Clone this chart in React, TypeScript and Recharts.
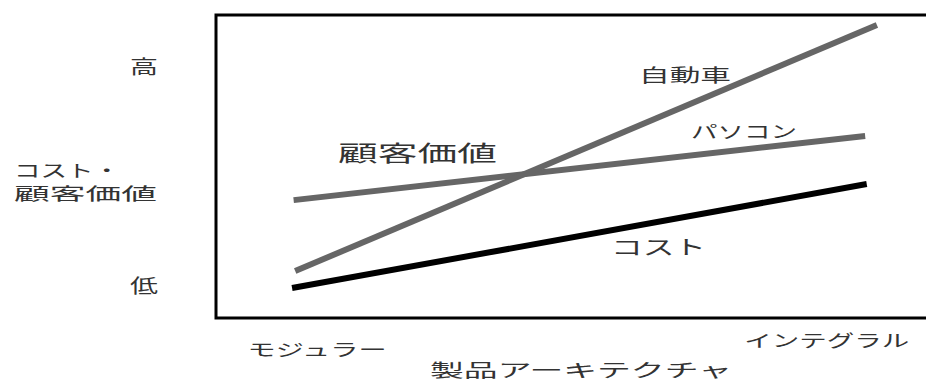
import { LineChart, Line, XAxis, YAxis, ReferenceArea, Customized } from "recharts";

// product architecture axis (0 = modular, 100 = integral side of the box)
const xTicks = [12.9, 77.9];
const xTickLabels = ["モジュラー", "インテグラル"];
// cost / customer value axis
const yTicks = [11.2, 83.2];
const yTickLabels = ["低", "高"];

const carX = [10.1, 84.3];
const carY = [15.5, 96.7];
const pcX = [9.9, 82.8];
const pcY = [38.9, 60.1];
const costX = [9.7, 83.0];
const costY = [9.9, 44.2];

const toPoints = (xs: number[], ys: number[]) => xs.map((x, i) => ({ x, y: ys[i] }));

const FONT = '"Noto Sans CJK JP", "Noto Sans", sans-serif';
const TEXT = "#333";

// centre y, font size, stretched width
const xTickStyle = [
    { cy: 348, size: 17, w: 139 },
    { cy: 339, size: 17, w: 165 },
];
const yTickStyle = [
    { cy: 284.5, size: 19, w: 28 },
    { cy: 66, size: 19, w: 28 },
];

const StretchText = ({
    x,
    y,
    w,
    size,
    children,
    anchor = "start",
}: {
    x: number;
    y: number;
    w: number;
    size: number;
    children: string;
    anchor?: "start" | "middle";
}) => (
    <text
        x={x}
        y={y}
        fontSize={size}
        fontFamily={FONT}
        fill={TEXT}
        textAnchor={anchor}
        dominantBaseline="central"
        textLength={w}
        lengthAdjust="spacingAndGlyphs"
    >
        {children}
    </text>
);

// eslint-disable-next-line @typescript-eslint/no-explicit-any
const XTick = (props: any) => {
    const i = xTicks.indexOf(props.payload.value);
    const s = xTickStyle[i] ?? xTickStyle[0];
    return (
        <StretchText x={props.x} y={s.cy} w={s.w} size={s.size} anchor="middle">
            {xTickLabels[i]}
        </StretchText>
    );
};

// eslint-disable-next-line @typescript-eslint/no-explicit-any
const YTick = (props: any) => {
    const i = yTicks.indexOf(props.payload.value);
    const s = yTickStyle[i] ?? yTickStyle[0];
    return (
        <StretchText x={144} y={props.y} w={s.w} size={s.size} anchor="middle">
            {yTickLabels[i]}
        </StretchText>
    );
};

// titles and in-plot annotations
const Annotations = () => (
    <g>
        <StretchText x={14} y={169} w={106} size={17}>コスト・</StretchText>
        <StretchText x={14} y={192} w={143} size={17}>顧客価値</StretchText>
        <StretchText x={430} y={369} w={302} size={18}>製品アーキテクチャ</StretchText>
        <StretchText x={338} y={151} w={159} size={22}>顧客価値</StretchText>
        <StretchText x={639} y={74} w={92} size={18}>自動車</StretchText>
        <StretchText x={691} y={130} w={106} size={17}>パソコン</StretchText>
        <StretchText x={611} y={246} w={95} size={20}>コスト</StretchText>
    </g>
);

export default function App() {
    return (
        <div
            style={{
                width: 934,
                height: 382,
                marginLeft: -8,
                marginTop: -8,
                overflow: "hidden",
                background: "#fff",
            }}
        >
            <LineChart
                width={1000}
                height={382}
                margin={{ top: 15, right: 0, bottom: 0, left: 116 }}
            >
                <XAxis
                    type="number"
                    dataKey="x"
                    domain={[0, 100]}
                    ticks={xTicks}
                    tick={<XTick />}
                    axisLine={false}
                    tickLine={false}
                    height={64}
                    allowDataOverflow
                />
                <YAxis
                    type="number"
                    dataKey="y"
                    domain={[0, 100]}
                    ticks={yTicks}
                    tick={<YTick />}
                    axisLine={false}
                    tickLine={false}
                    width={100}
                    allowDataOverflow
                />
                <ReferenceArea
                    x1={0}
                    x2={100}
                    y1={0}
                    y2={100}
                    fill="none"
                    stroke="#000"
                    strokeWidth={3}
                    ifOverflow="visible"
                />
                <Line
                    data={toPoints(pcX, pcY)}
                    dataKey="y"
                    stroke="#666"
                    strokeWidth={6}
                    dot={false}
                    isAnimationActive={false}
                />
                <Line
                    data={toPoints(carX, carY)}
                    dataKey="y"
                    stroke="#666"
                    strokeWidth={6}
                    dot={false}
                    isAnimationActive={false}
                />
                <Line
                    data={toPoints(costX, costY)}
                    dataKey="y"
                    stroke="#000"
                    strokeWidth={6}
                    dot={false}
                    isAnimationActive={false}
                />
                <Customized component={Annotations} />
            </LineChart>
        </div>
    );
}
